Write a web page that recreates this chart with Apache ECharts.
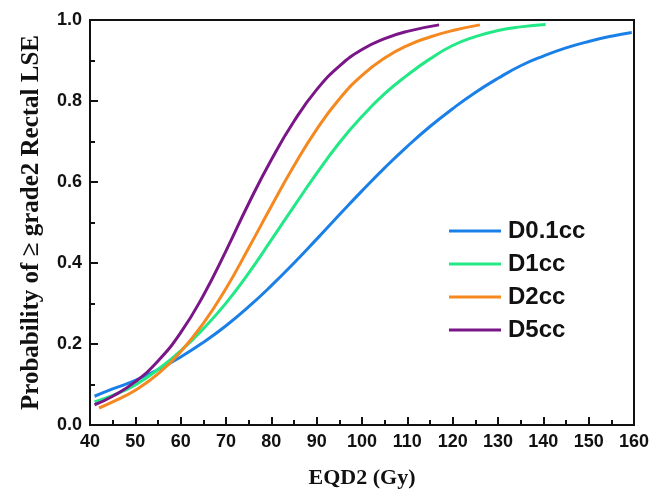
<!DOCTYPE html>
<html>
<head>
<meta charset="utf-8">
<script src="https://cdn.jsdelivr.net/npm/echarts@6/dist/echarts.min.js"></script>
<style>
  html, body { margin: 0; padding: 0; background: #fff; }
  #chart { width: 661px; height: 494px; }
</style>
</head>
<body>
<div id="chart"></div>
<script>
// curvas: dosis EQD2 (Gy) y probabilidad
var d01Dose = [41, 45, 50, 55, 60, 65, 70, 75, 80, 85, 90, 95, 100, 105, 110, 115, 120, 125, 130, 135, 140, 145, 150, 155, 159.5];
var d01Prob = [0.071, 0.089, 0.110, 0.137, 0.168, 0.204, 0.245, 0.292, 0.344, 0.400, 0.459, 0.519, 0.578, 0.635, 0.688, 0.737, 0.781, 0.821, 0.856, 0.887, 0.911, 0.931, 0.947, 0.960, 0.969];

var d1Dose = [41, 45, 50, 55, 60, 65, 70, 75, 80, 85, 90, 95, 100, 105, 110, 115, 120, 125, 130, 135, 140.5];
var d1Prob = [0.057, 0.073, 0.099, 0.137, 0.183, 0.238, 0.301, 0.375, 0.457, 0.540, 0.621, 0.697, 0.762, 0.818, 0.864, 0.904, 0.937, 0.959, 0.974, 0.983, 0.989];

var d2Dose = [42, 45, 50, 55, 60, 65, 70, 75, 80, 85, 90, 95, 100, 105, 110, 115, 120, 126];
var d2Prob = [0.042, 0.057, 0.086, 0.126, 0.181, 0.251, 0.337, 0.437, 0.540, 0.640, 0.730, 0.805, 0.863, 0.906, 0.937, 0.958, 0.974, 0.988];

var d5Dose = [41, 45, 50, 55, 60, 65, 70, 75, 80, 85, 90, 95, 100, 105, 110, 117];
var d5Prob = [0.050, 0.071, 0.107, 0.158, 0.228, 0.320, 0.430, 0.547, 0.655, 0.750, 0.828, 0.886, 0.927, 0.954, 0.972, 0.988];

var nombres = ['D0.1cc', 'D1cc', 'D2cc', 'D5cc'];
var colores = ['#1a80e8', '#22e886', '#f5881f', '#7a1688'];

var xTicks = [40, 50, 60, 70, 80, 90, 100, 110, 120, 130, 140, 150, 160];
var yTicks = [0, 0.2, 0.4, 0.6, 0.8, 1.0];

// pares [x, y] para cada serie
const parear = (xs, ys) => {
    var datos = [];
    for (var i = 0; i < xs.length; i++) {
        datos.push([xs[i], ys[i]]);
    }
    return datos;
};

var curvas = [
    parear(d01Dose, d01Prob),
    parear(d1Dose, d1Prob),
    parear(d2Dose, d2Prob),
    parear(d5Dose, d5Prob)
];

var series = [];
for (var i = 0; i < nombres.length; i++) {
    series.push({
        name: nombres[i],
        type: 'line',
        data: curvas[i],
        smooth: 0.5,
        showSymbol: false,
        symbol: 'none',
        lineStyle: { color: colores[i], width: 3 },
        itemStyle: { color: colores[i] }
    });
}

var tickFont = {
    fontFamily: 'Liberation Sans',
    fontWeight: 'bold',
    fontSize: 18,
    color: '#111'
};

var chart = echarts.init(document.getElementById('chart'));
chart.setOption({
    animation: false,
    backgroundColor: '#fff',
    grid: {
        left: 90, right: 27, top: 20, bottom: 68,
        show: true,
        borderColor: '#111',
        borderWidth: 2
    },
    legend: {
        orient: 'vertical',
        left: 449,
        top: 219,
        padding: 0,
        icon: 'rect',
        itemWidth: 52,
        itemHeight: 3,
        itemGap: 9,
        textStyle: {
            fontFamily: 'Liberation Sans',
            fontWeight: 'bold',
            fontSize: 24,
            lineHeight: 24,
            padding: [0, 0, 0, 2],
            color: '#111'
        },
        data: nombres
    },
    xAxis: {
        type: 'value',
        min: xTicks[0],
        max: xTicks[xTicks.length - 1],
        interval: 10,
        name: 'EQD2 (Gy)',
        nameLocation: 'middle',
        nameGap: 42,
        nameTextStyle: {
            fontFamily: 'Liberation Serif',
            fontWeight: 'bold',
            fontSize: 22,
            color: '#111'
        },
        axisLine: { lineStyle: { color: '#111', width: 2 } },
        axisTick: { inside: true, length: 8, lineStyle: { color: '#111', width: 2 } },
        minorTick: { show: true, splitNumber: 2, length: 5, lineStyle: { color: '#111', width: 2 } },
        axisLabel: Object.assign({ margin: 8 }, tickFont),
        splitLine: { show: false }
    },
    yAxis: {
        type: 'value',
        min: yTicks[0],
        max: yTicks[yTicks.length - 1],
        interval: 0.2,
        name: 'Probability of \u2265 grade2 Rectal LSE',
        nameLocation: 'middle',
        nameGap: 46,
        nameTextStyle: {
            fontFamily: 'Liberation Serif',
            fontWeight: 'bold',
            fontSize: 25,
            color: '#111'
        },
        axisLine: { show: true, lineStyle: { color: '#111', width: 2 } },
        axisTick: { show: true, inside: true, length: 8, lineStyle: { color: '#111', width: 2 } },
        minorTick: { show: true, splitNumber: 2, length: 5, lineStyle: { color: '#111', width: 2 } },
        axisLabel: Object.assign({
            margin: 8,
            formatter: function (v) { return v.toFixed(1); }
        }, tickFont),
        splitLine: { show: false }
    },
    series: series
});
</script>
</body>
</html>
